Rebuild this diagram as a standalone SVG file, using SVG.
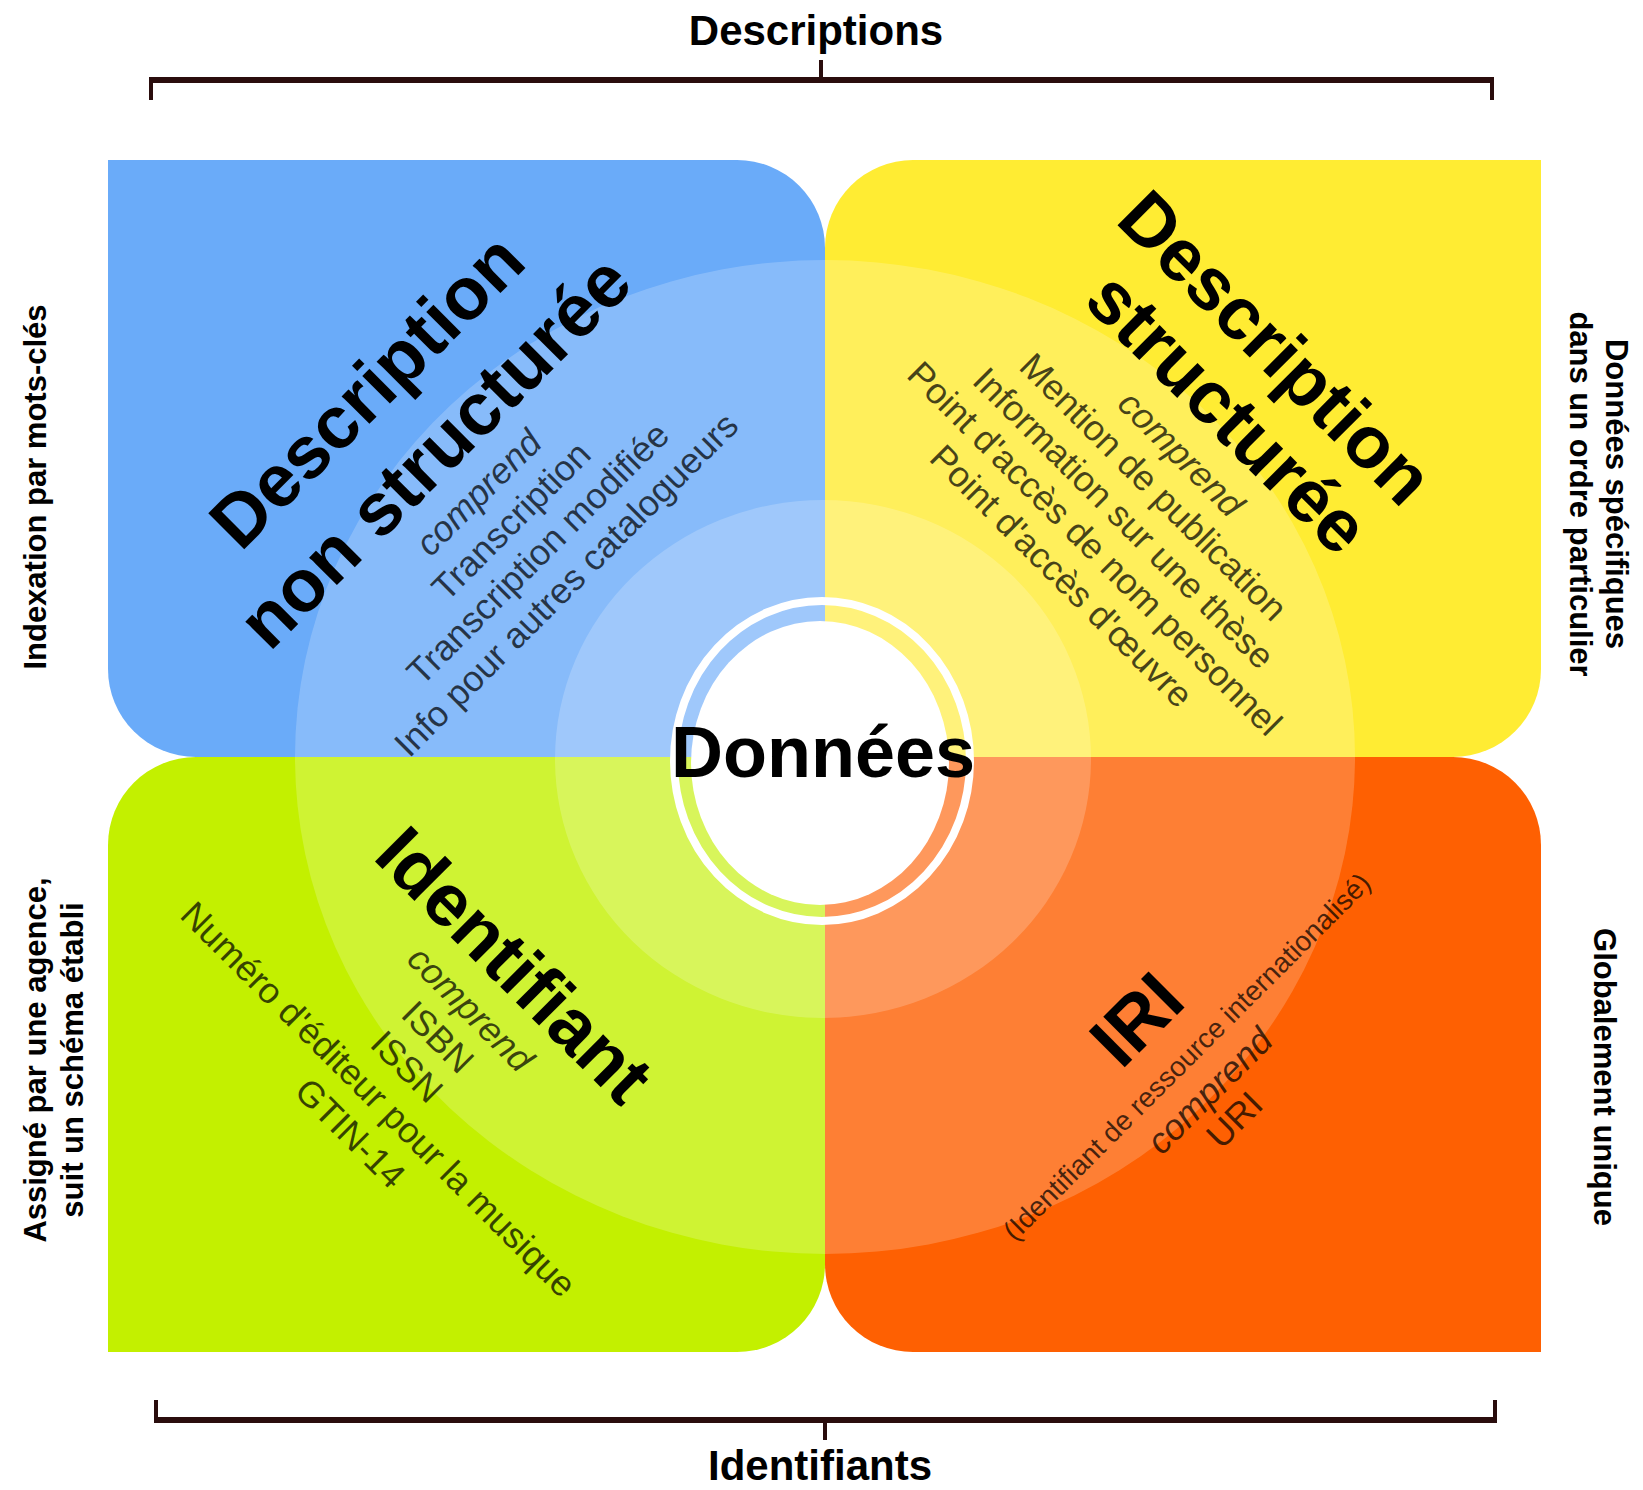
<svg xmlns="http://www.w3.org/2000/svg" width="1643" height="1490" viewBox="0 0 1643 1490">
<style>
text{font-family:"Liberation Sans",Arial,sans-serif;}
.lab{font-size:42px;font-weight:bold;fill:#000;text-anchor:middle;}
.side{font-size:31px;font-weight:bold;fill:#000;text-anchor:middle;}
.title{font-size:74px;font-weight:bold;fill:#000;text-anchor:middle;}
.item{font-size:36px;fill:#000;fill-opacity:0.72;text-anchor:middle;}
.it{font-style:italic;}
.brk{stroke:#2a0d0d;fill:none;stroke-linecap:butt;}
.halo{fill:#fff;fill-opacity:0.2;}
</style>
<rect width="1643" height="1490" fill="#fff"/>

<g id="node-blue">
<path d="M108,160 H737 A88,88 0 0 1 825,248 V757 H196 A88,88 0 0 1 108,669 Z" fill="#6aabf9"/>
</g>
<g id="node-yellow">
<path d="M913,160 H1541 V669 A88,88 0 0 1 1453,757 H825 V248 A88,88 0 0 1 913,160 Z" fill="#ffec33"/>
</g>
<g id="node-green">
<path d="M196,757 H825 V1264 A88,88 0 0 1 737,1352 H108 V845 A88,88 0 0 1 196,757 Z" fill="#c3f000"/>
</g>
<g id="node-orange">
<path d="M825,757 H1453 A88,88 0 0 1 1541,845 V1352 H913 A88,88 0 0 1 825,1264 Z" fill="#fe6002"/>
</g>

<g id="halos">
<ellipse class="halo" cx="825" cy="757" rx="530" ry="497"/>
<ellipse class="halo" cx="823" cy="759" rx="268" ry="259"/>
</g>

<g id="node-center">
<ellipse cx="822" cy="761" rx="148" ry="160" fill="none" stroke="#fff" stroke-width="8"/>
<ellipse cx="820" cy="763" rx="129" ry="142" fill="#fff"/>
<text x="823" y="777" style="font-size:72px;font-weight:bold;text-anchor:middle;fill:#000">Données</text>
</g>

<g id="text-blue" transform="rotate(-45)">
<text class="title" x="-17" y="561">Description</text>
<text class="title" x="-12" y="652">non structurée</text>
<text class="item it" x="-10" y="699">comprend</text>
<text class="item" x="-7" y="742">Transcription</text>
<text class="item" x="-11" y="784">Transcription modifiée</text>
<text class="item" x="-13" y="826">Info pour autres catalogueurs</text>
</g>

<g id="text-yellow" transform="rotate(45)">
<text class="title" x="1148" y="-631">Description</text>
<text class="title" x="1160" y="-551">structurée</text>
<text class="item it" x="1156" y="-502">comprend</text>
<text class="item" x="1160" y="-459">Mention de publication</text>
<text class="item" x="1161" y="-416">Information sur une thèse</text>
<text class="item" x="1162" y="-374">Point d'accès de nom personnel</text>
<text class="item" x="1158" y="-331">Point d'accès d'œuvre</text>
</g>

<g id="text-green" transform="rotate(45)">
<text class="title" x="1046" y="344">Identifiant</text>
<text class="item it" x="1046" y="393">comprend</text>
<text class="item" x="1043" y="436">ISBN</text>
<text class="item" x="1042" y="479">ISSN</text>
<text class="item" x="1045" y="522">Numéro d'éditeur pour la musique</text>
<text class="item" x="1049" y="566">GTIN-14</text>
</g>

<g id="text-orange" transform="rotate(-45)">
<text class="title" x="83" y="1550">IRI</text>
<text class="item" x="92" y="1596" style="font-size:28px">(Identifiant de ressource internationalisé)</text>
<text class="item it" x="84" y="1639">comprend</text>
<text class="item" x="81" y="1677">URI</text>
</g>

<g id="connectors">
<path class="brk" d="M149,80 H1494" stroke-width="6"/>
<path class="brk" d="M151,77 V100 M1492,77 V100 M821,60 V80" stroke-width="4"/>
<path class="brk" d="M154,1420 H1497" stroke-width="6"/>
<path class="brk" d="M156,1400 V1423 M1495,1400 V1423 M825,1420 V1440" stroke-width="4"/>
</g>

<g id="labels">
<text class="lab" x="816" y="45">Descriptions</text>
<text class="lab" x="820" y="1480">Identifiants</text>
<text class="side" transform="translate(46,487) rotate(-90)">Indexation par mots-clés</text>
<text class="side" transform="translate(46,1060) rotate(-90)">Assigné par une agence,</text>
<text class="side" transform="translate(83,1060) rotate(-90)">suit un schéma établi</text>
<text class="side" transform="translate(1606,494) rotate(90)">Données spécifiques</text>
<text class="side" transform="translate(1570,494) rotate(90)">dans un ordre particulier</text>
<text class="side" transform="translate(1594,1077) rotate(90)">Globalement unique</text>
</g>
</svg>
